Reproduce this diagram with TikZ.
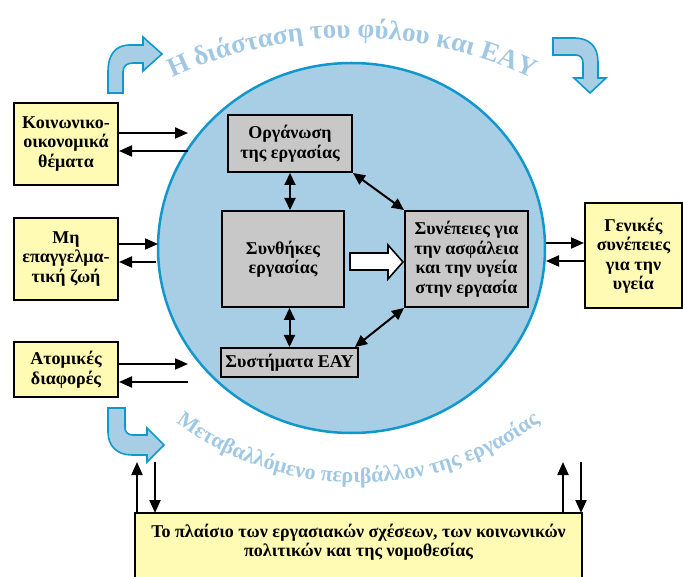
\documentclass[tikz,border=0pt]{standalone}
\usepackage{fontspec}
\setmainfont{Liberation Serif}
\usetikzlibrary{arrows.meta,decorations.text,shapes.geometric}
\definecolor{cfill}{RGB}{168,206,230}
\definecolor{cedge}{RGB}{16,152,204}
\definecolor{ctext}{RGB}{160,200,228}
\definecolor{yel}{RGB}{255,250,180}
\definecolor{gry}{RGB}{200,200,200}
\begin{document}
\begin{tikzpicture}[x=1pt,y=-1pt,
  boxtext/.style={font=\fontsize{18}{19.5}\selectfont\bfseries, align=center, inner sep=0pt},
  ybox/.style={boxtext, draw=black, line width=2pt, fill=yel},
  gbox/.style={boxtext, draw=black, line width=2pt, fill=gry},
  arr/.style={line width=2pt, -{Triangle[length=13pt,width=11pt]}},
  darr/.style={line width=2pt, {Triangle[length=12pt,width=11pt]}-{Triangle[length=12pt,width=11pt]}},
  bendarrow/.style={fill=cfill, draw=cedge, line width=1.6pt, line join=miter}]
\useasboundingbox (0,0) rectangle (683,577);

% big circle
\node[draw=cedge, fill=cfill, line width=2.5pt, ellipse, minimum width=387pt, minimum height=370pt, inner sep=0pt] (circ) at (351.5,248) {};

% arc texts
\path[decorate, decoration={text along path, text align=center, text color=ctext,
  text={|\fontsize{27}{27}\selectfont\bfseries|Η διάσταση του φύλου και ΕΑΥ}}]
  (352,463) ++(-122:425) arc[start angle=-122, end angle=-58, radius=425];
\path[decorate, decoration={text along path, text align=center, text color=ctext,
  text={|\fontsize{22}{22}\selectfont\bfseries|Μεταβαλλόμενο περιβάλλον της εργασίας}}]
  (358,180) ++(136:303) arc[start angle=136, end angle=44, radius=303];

% curved block arrows
\draw[bendarrow] (108,93) -- (108,72) .. controls (108,55) and (115,45) .. (130,45) -- (143,45) -- (143,37) -- (162,54) -- (143,71) -- (143,63) -- (133,63) .. controls (127,63) and (123,66) .. (123,72) -- (123,93) -- cycle;
\draw[bendarrow] (553,38) -- (574,38) .. controls (590,38) and (598,47) .. (598,62) -- (598,78) -- (606,78) -- (590,93) -- (574,78) -- (583,78) -- (583,63) .. controls (583,58) and (580,55) .. (576,55) -- (553,55) -- cycle;
\draw[bendarrow] (108,408) -- (125,408) -- (125,428) .. controls (125,432) and (128,435) .. (133,435) -- (147,435) -- (147,428) -- (164,445) -- (147,462) -- (147,455) -- (132,455) .. controls (117,455) and (108,446) .. (108,432) -- cycle;

% left boxes
\node[ybox, minimum width=104pt, minimum height=82pt] (b1) at (66,144) {Κοινωνικο-\\οικονομικά\\θέματα};
\node[ybox, minimum width=104pt, minimum height=82pt] (b2) at (66,259) {Μη\\επαγγελμα-\\τική ζωή};
\node[ybox, minimum width=104pt, minimum height=55pt] (b3) at (66,369.5) {Ατομικές\\διαφορές};
% right box
\node[ybox, minimum width=97pt, minimum height=105pt] (rb) at (633.5,255.5) {Γενικές\\συνέπειες\\για την\\υγεία};

% inner boxes
\node[gbox, minimum width=124pt, minimum height=57pt] (org) at (290,143.5) {Οργάνωση\\της εργασίας};
\node[gbox, minimum width=122pt, minimum height=96pt] (syn) at (283,259) {Συνθήκες\\εργασίας};
\node[gbox, minimum width=123pt, minimum height=96pt] (sep) at (466.5,259) {Συνέπειες για\\την ασφάλεια\\και την υγεία\\στην εργασία};
\node[gbox, minimum width=137pt, minimum height=29pt] (eay) at (289.5,362.5) {Συστήματα ΕΑΥ};

% bottom frame
\fill[yel] (135,513) rectangle (582,580);
\draw[line width=2pt] (135,585) -- (135,513) coordinate (frameNW) -- (582,513) coordinate (frameNE) -- (582,585);
\node[boxtext] (frametext) at (358.5,542) {Το πλαίσιο των εργασιακών σχέσεων, των κοινωνικών\\πολιτικών και της νομοθεσίας};

% left arrows
\coordinate (e1o) at (188,133); \coordinate (e1i) at (188,151);
\coordinate (e2o) at (158,244); \coordinate (e2i) at (156,262);
\coordinate (e3o) at (188,364); \coordinate (e3i) at (188,382);
\draw[arr] (b1.east |- e1o) -- (e1o);
\draw[arr] (e1i) -- (b1.east |- e1i);
\draw[arr] (b2.east |- e2o) -- (e2o);
\draw[arr] (e2i) -- (b2.east |- e2i);
\draw[arr] (b3.east |- e3o) -- (e3o);
\draw[arr] (e3i) -- (b3.east |- e3i);
% right arrows
\coordinate (r1) at (546,243); \coordinate (r2) at (546,261);
\draw[arr] (r1) -- (rb.west |- r1);
\draw[arr] (rb.west |- r2) -- (r2);

% bottom arrows
\coordinate (u1) at (137,462); \coordinate (d1) at (155,462);
\coordinate (u2) at (563,462); \coordinate (d2) at (581,462);
\draw[arr] (u1 |- frameNW) -- (u1);
\draw[arr] (d1) -- (d1 |- frameNW);
\draw[arr] (u2 |- frameNW) -- (u2);
\draw[arr] (d2) -- (d2 |- frameNW);

% inner arrows
\draw[darr] (org.south) -- (org.south |- syn.north);
\draw[darr] (syn.south -| eay.north) -- (eay.north);
\draw[darr] (org.south east) -- (sep.north west);
\draw[darr] ([xshift=-4pt]eay.north east) -- (sep.south west);

% big white arrow
\draw[line width=1.6pt, fill=white, line join=miter] (350,253) -- (388,253) -- (388,245) -- (403,262) -- (388,279) -- (388,270) -- (350,270) -- cycle;
\end{tikzpicture}
\end{document}
